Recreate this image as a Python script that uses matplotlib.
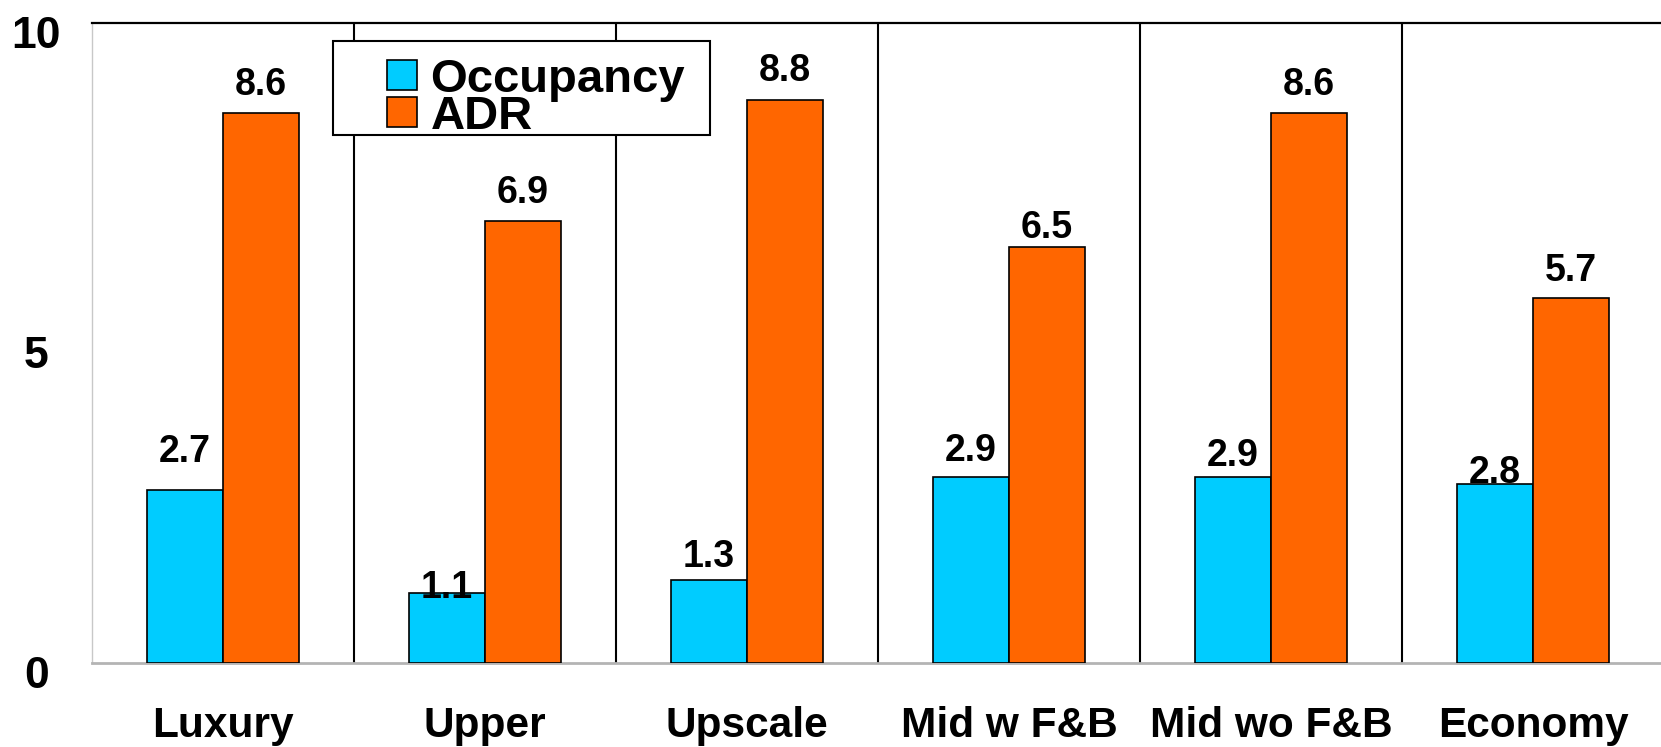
import numpy as np
import matplotlib
matplotlib.use("Agg")
import matplotlib.pyplot as plt
import matplotlib.transforms as mtransforms
from matplotlib.patches import Rectangle

# ── Data ──────────────────────────────────────────────────────────────────────
segments  = ["Luxury", "Upper", "Upscale", "Mid w F&B", "Mid wo F&B", "Economy"]
occupancy = [2.7, 1.1, 1.3, 2.9, 2.9, 2.8]
adr       = [8.6, 6.9, 8.8, 6.5, 8.6, 5.7]
y_ticks   = [0, 5, 10]

# label baseline gap above each bar top (pixels)
occ_label_gap = [28, -5, 13, 16, 11, 1]
adr_label_gap = [18, 18, 19, 9, 18, 17]

OCC_COLOR = "#00CCFF"
ADR_COLOR = "#FF6600"
FONT = "Liberation Sans"

plt.rcParams["font.family"] = [FONT, "DejaVu Sans"]
plt.rcParams["font.weight"] = "bold"

W, H = 1661, 747
fig = plt.figure(figsize=(W / 100, H / 100), dpi=100)
ax = fig.add_axes([92 / W, 1 - 663 / H, 1572 / W, 640 / H])

x = np.arange(len(segments))
bar_w = 0.29
b_occ = ax.bar(x - bar_w / 2, occupancy, bar_w, color=OCC_COLOR,
               edgecolor="black", linewidth=1.2, label="Occupancy", zorder=3)
b_adr = ax.bar(x + bar_w / 2, adr, bar_w, color=ADR_COLOR,
               edgecolor="black", linewidth=1.2, label="ADR", zorder=3)

# value labels
for bars, vals, gaps in [(b_occ, occupancy, occ_label_gap),
                         (b_adr, adr, adr_label_gap)]:
    for rect, v, g in zip(bars, vals, gaps):
        ax.annotate(f"{v:.1f}", (rect.get_x() + rect.get_width() / 2, v),
                    xytext=(0, g), textcoords="offset pixels",
                    ha="center", va="baseline", fontsize=27,
                    fontweight="bold", zorder=5)

# separators between segments
ax.vlines(x[:-1] + 0.5, 0, 10, color="black", linewidth=1.5, zorder=2)

ax.set_xlim(-0.5, len(segments) - 0.5)
ax.set_ylim(0, 10)

ax.spines["top"].set_color("black")
ax.spines["top"].set_linewidth(1.6)
ax.spines["left"].set_color("#c8c8c8")
ax.spines["left"].set_linewidth(1.0)
ax.spines["bottom"].set_color("#b4b4b4")
ax.spines["bottom"].set_linewidth(2.0)
ax.spines["right"].set_visible(False)

ax.set_xticks(x)
ax.set_xticklabels(segments, fontsize=30.5, fontweight="bold")
ax.tick_params(axis="x", length=0, pad=31)

ax.set_yticks(y_ticks)
ax.set_yticklabels([str(t) for t in y_ticks], fontsize=32, fontweight="bold")
ax.tick_params(axis="y", length=0, pad=40)
shift = mtransforms.ScaledTranslation(0, -9 / 100, fig.dpi_scale_trans)
for lbl in ax.get_yticklabels():
    lbl.set_horizontalalignment("center")
    lbl.set_transform(lbl.get_transform() + shift)

# legend box
fig.patches.append(Rectangle((333 / W, 1 - 135 / H), 377 / W, 94 / H,
                             transform=fig.transFigure, facecolor="white",
                             edgecolor="black", linewidth=1.5, zorder=4))
leg = fig.legend(handles=[b_occ, b_adr], labels=["Occupancy", "ADR"],
                 loc="upper left", bbox_to_anchor=(387 / W, 1 - 58 / H),
                 frameon=False, borderpad=0, borderaxespad=0,
                 handlelength=0.64, handleheight=0.6, handletextpad=0.28,
                 labelspacing=-0.15,
                 prop={"family": FONT, "weight": "bold", "size": 34})
leg.set_zorder(6)

fig.savefig("out.png", dpi=100, facecolor="white")
